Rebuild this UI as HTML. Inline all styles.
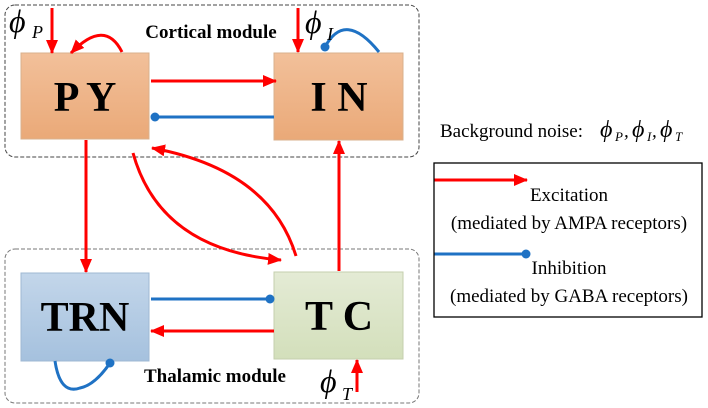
<!DOCTYPE html>
<html><head><meta charset="utf-8"><style>
html,body{margin:0;padding:0;background:#fff;}
svg{display:block;font-family:"Liberation Serif",serif;}
</style></head><body>
<svg width="708" height="408" viewBox="0 0 708 408" xmlns="http://www.w3.org/2000/svg">
<defs>
<marker id="ar" markerWidth="14" markerHeight="12" refX="13" refY="6" orient="auto" markerUnits="userSpaceOnUse"><path d="M0,0 L14,6 L0,12 z" fill="#f00"/></marker>
<linearGradient id="go" x1="0" y1="0" x2="0" y2="1"><stop offset="0" stop-color="#f2c09a"/><stop offset="1" stop-color="#eaa978"/></linearGradient>
<linearGradient id="gb" x1="0" y1="0" x2="0" y2="1"><stop offset="0" stop-color="#c3d6ea"/><stop offset="1" stop-color="#a5c1de"/></linearGradient>
<linearGradient id="gg" x1="0" y1="0" x2="0" y2="1"><stop offset="0" stop-color="#e4ebd5"/><stop offset="1" stop-color="#d3dfbb"/></linearGradient>
</defs>
<rect x="5" y="5" width="414" height="152" rx="10" fill="none" stroke="#444" stroke-dasharray="4,2" stroke-width="1"/>
<rect x="5" y="249" width="414" height="154" rx="10" fill="none" stroke="#777" stroke-dasharray="4,2" stroke-width="1"/>
<rect x="21" y="53" width="128" height="86" fill="url(#go)" stroke="#d9b08c"/>
<rect x="274" y="53" width="129" height="87" fill="url(#go)" stroke="#d9b08c"/>
<rect x="21" y="273" width="128" height="88" fill="url(#gb)" stroke="#9fb8d3"/>
<rect x="274" y="272" width="129" height="87" fill="url(#gg)" stroke="#c4cfae"/>
<g font-weight="bold" font-size="42" text-anchor="middle" fill="#000">
<text x="85" y="111">P Y</text><text x="339" y="111">I N</text>
<text x="85" y="331">TRN</text><text x="339" y="330">T C</text>
</g>
<g font-weight="bold" font-size="19" text-anchor="middle">
<text x="211" y="38">Cortical module</text><text x="215" y="382">Thalamic module</text>
</g>
<g stroke="#f00" stroke-width="3" fill="none" marker-end="url(#ar)">
<line x1="52" y1="8" x2="52" y2="53"/>
<line x1="298" y1="8" x2="298" y2="52"/>
<path d="M122,52 Q105,18 71,53"/>
<line x1="151" y1="81" x2="276" y2="81"/>
<line x1="86" y1="140" x2="86" y2="272"/>
<line x1="339" y1="271" x2="339" y2="141"/>
<path d="M133,153 Q160,250 281,260"/>
<path d="M296,256 Q270,170 152,148"/>
<line x1="274" y1="331" x2="151" y2="331"/>
<line x1="357" y1="392" x2="357" y2="360"/>
<line x1="434" y1="180" x2="527" y2="180"/>
</g>
<g stroke="#1f72c4" stroke-width="3" fill="none">
<line x1="274" y1="117" x2="155" y2="117"/>
<path d="M325,47 Q345,10 379,52"/>
<line x1="151" y1="299" x2="270" y2="299"/>
<path d="M55,361 Q60,395 80,388 Q95,385 110,363"/>
<line x1="434" y1="254" x2="526" y2="254"/>
</g>
<g fill="#1f72c4">
<circle cx="155" cy="117" r="4.5"/><circle cx="325" cy="47" r="4.5"/><circle cx="270" cy="299" r="4.5"/>
<circle cx="110" cy="363" r="4.5"/><circle cx="526" cy="254" r="4.5"/>
</g>
<g font-style="italic">
<text x="9" y="32" font-size="32">ϕ</text><text x="32" y="38" font-size="18">P</text>
<text x="305" y="33" font-size="32">ϕ</text><text x="327" y="40" font-size="18">I</text>
<text x="320" y="392" font-size="32">ϕ</text><text x="342" y="400" font-size="18">T</text>
</g>
<text x="440" y="137" font-size="19">Background noise:</text>
<g font-style="italic"><text x="600" y="137" font-size="24">ϕ</text><text x="615" y="141" font-size="13">P</text>
<text x="624" y="137" font-size="19">,</text>
<text x="632" y="137" font-size="24">ϕ</text><text x="647" y="141" font-size="13">I</text>
<text x="652" y="137" font-size="19">,</text>
<text x="660" y="137" font-size="24">ϕ</text><text x="675" y="141" font-size="13">T</text></g>
<rect x="434" y="163" width="268" height="154" fill="none" stroke="#000" stroke-width="1.3"/>
<g font-size="19" text-anchor="middle">
<text x="569" y="201">Excitation</text><text x="569" y="229">(mediated by AMPA receptors)</text>
<text x="569" y="274">Inhibition</text><text x="569" y="302">(mediated by GABA receptors)</text>
</g>
</svg>
</body></html>
